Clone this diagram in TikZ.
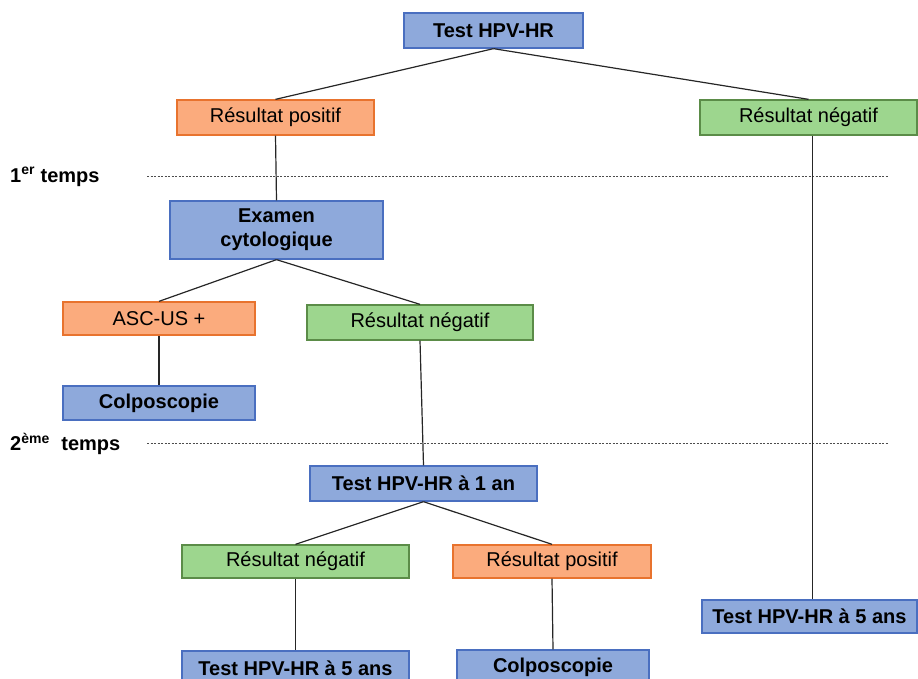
\documentclass[tikz,border=0pt]{standalone}
\usepackage{fontspec}
\setmainfont{Liberation Sans}
\definecolor{bfill}{HTML}{8EA9DB}
\definecolor{bdraw}{HTML}{4A6FC0}
\definecolor{ofill}{HTML}{FBAB7D}
\definecolor{odraw}{HTML}{E8732E}
\definecolor{gfill}{HTML}{9DD68E}
\definecolor{gdraw}{HTML}{5B8C48}
\begin{document}
\begin{tikzpicture}[x=1pt,y=-1pt,
  box/.style={draw, line width=1.3pt, inner sep=0pt, align=center, text=black,
    font=\fontsize{20}{24}\selectfont},
  bluebox/.style={box, fill=bfill, draw=bdraw, font=\fontsize{20}{24}\selectfont\bfseries},
  orangebox/.style={box, fill=ofill, draw=odraw},
  greenbox/.style={box, fill=gfill, draw=gdraw},
  conn/.style={draw=black!85, line width=1.2pt},
  sep/.style={draw=black!70, line width=0.8pt, dash pattern=on 2pt off 1.5pt},
  lbl/.style={anchor=west, inner sep=0pt, font=\fontsize{20}{24}\selectfont\bfseries}
]
\useasboundingbox (0,0) rectangle (918,679);
\clip (0,0) rectangle (918,679);

% separators
\coordinate (s1a) at (147,176);
\coordinate (s1b) at (888,176);
\coordinate (s2a) at (147,443);
\coordinate (s2b) at (888,443);
\draw[sep] (s1a) -- (s1b);
\draw[sep] (s2a) -- (s2b);
\node[lbl] (t1) at (10,177) {1\textsuperscript{er} temps};
\node[lbl] (t2) at (10,444) {2\textsuperscript{ème}\hspace{0.3em} temps};

% nodes
\node[bluebox, minimum width=179pt, minimum height=35pt] (top) at (493.5,30.5) {Test HPV-HR};
\node[orangebox, minimum width=197pt, minimum height=35pt] (rp1) at (275.5,117.5) {Résultat positif};
\node[greenbox, minimum width=217pt, minimum height=35pt] (rn1) at (808.5,117.5) {Résultat négatif};
\node[bluebox, minimum width=213pt, minimum height=58pt] (exam) at (276.5,230) {Examen\\cytologique};
\node[orangebox, minimum width=192pt, minimum height=33pt] (asc) at (159,318.5) {ASC-US +};
\node[greenbox, minimum width=226pt, minimum height=35pt] (rn2) at (420,322.5) {Résultat négatif};
\node[bluebox, minimum width=192pt, minimum height=34pt] (col1) at (159,403) {Colposcopie};
\node[bluebox, minimum width=227pt, minimum height=35pt] (t1an) at (423.5,483.5) {Test HPV-HR à 1 an};
\node[greenbox, minimum width=227pt, minimum height=33pt] (rn3) at (295.5,561.5) {Résultat négatif};
\node[orangebox, minimum width=198pt, minimum height=33pt] (rp3) at (552,561.5) {Résultat positif};
\node[bluebox, minimum width=227pt, minimum height=35pt] (t5l) at (295.5,668.5) {Test HPV-HR à 5 ans};
\node[bluebox, minimum width=192pt, minimum height=35pt] (col2) at (553,667.5) {Colposcopie};
\node[bluebox, minimum width=215pt, minimum height=33pt] (t5r) at (809.5,616.5) {Test HPV-HR à 5 ans};

% connectors
\draw[conn] (top.south) -- (rp1.north);
\draw[conn] (top.south) -- (rn1.north);
\draw[conn] (rp1.south) -- (exam.north);
\draw[conn] ([xshift=4pt]rn1.south) -- ([xshift=3pt]t5r.north);
\draw[conn] (exam.south) -- (asc.north);
\draw[conn] (exam.south) -- (rn2.north);
\draw[conn] (asc.south) -- (col1.north);
\draw[conn] (rn2.south) -- (t1an.north);
\draw[conn] (t1an.south) -- (rn3.north);
\draw[conn] (t1an.south) -- (rp3.north);
\draw[conn] (rn3.south) -- (t5l.north);
\draw[conn] (rp3.south) -- (col2.north);
\end{tikzpicture}
\end{document}
